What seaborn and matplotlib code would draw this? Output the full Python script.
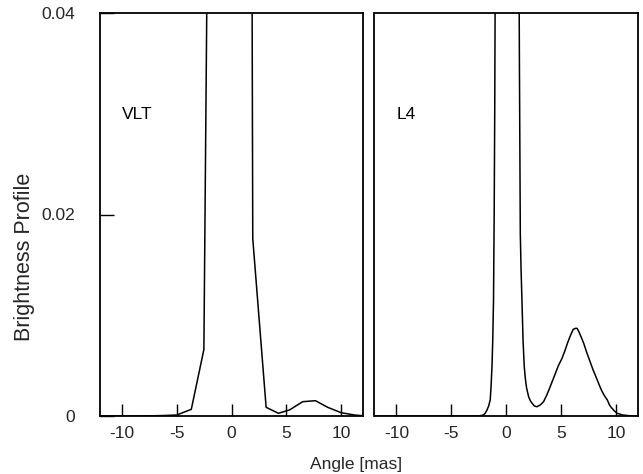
import matplotlib
matplotlib.use("Agg")
import matplotlib.pyplot as plt
import seaborn as sns
import pandas as pd

# VLT brightness profile (left panel)
vlt_angle = [-12, -9.5, -7.3, -6.1, -4.99, -3.67, -2.52, -1.40, -0.29, 0.83, 1.94,
             3.16, 4.28, 5.29, 6.5, 7.66, 8.78, 10.0, 11.2, 12]
vlt_bright = [0, 0, 0.00002, 0.00005, 0.0001, 0.00066, 0.0066, 0.15, 0.5, 0.45, 0.0176,
              0.00086, 0.00027, 0.0006, 0.00142, 0.00152, 0.00086, 0.00033, 0.0001, 0.00002]

# L4 brightness profile (right panel)
l4_angle = [-12, -8, -4, -2.5, -2.07, -1.9, -1.75, -1.6, -1.46, -1.38, -1.3, -1.23, -1.16,
            -1.1, -1.05, -0.95, -0.6, 0.08, 0.8, 1.1, 1.2, 1.28, 1.35, 1.43, 1.53, 1.64,
            1.74, 1.85, 2.04, 2.2, 2.4, 2.55, 2.8, 3.1, 3.4, 3.7, 4.0, 4.25, 4.5, 4.75,
            5.07, 5.35, 5.6, 5.85, 6.1, 6.3, 6.45, 6.6, 6.8, 7.06, 7.3, 7.6, 7.9, 8.28,
            8.5, 8.7, 8.95, 9.2, 9.4, 9.6, 9.85, 10.1, 10.6, 11.2, 12]
l4_bright = [0, 0, 0, 0, 0.0001, 0.0003, 0.0006, 0.001, 0.0016, 0.003, 0.0049, 0.0075,
             0.0115, 0.02, 0.03, 0.06, 0.2, 0.4, 0.2, 0.06, 0.035, 0.0181, 0.0145, 0.0115,
             0.0075, 0.0049, 0.0037, 0.0028, 0.0019, 0.0015, 0.0012, 0.0010, 0.00092,
             0.0011, 0.00142, 0.0021, 0.0029, 0.0036, 0.0043, 0.0050, 0.0057, 0.0065,
             0.0073, 0.008, 0.0086, 0.0087, 0.0087, 0.0084, 0.0079, 0.0072, 0.0064,
             0.0055, 0.0046, 0.0036, 0.0030, 0.0025, 0.0020, 0.0016, 0.0011, 0.0008,
             0.0005, 0.00027, 0.0001, 0.00003, 0]

x_ticks = [-10, -5, 0, 5, 10]
x_tick_labels = ["-10", "-5", "0", "5", "10"]
y_ticks = [0, 0.02, 0.04]
y_tick_labels = ["0", "0.02", "0.04"]
panel_names = ["VLT", "L4"]

sns.set_theme(style="white")
plt.rcParams["font.family"] = ["Liberation Sans", "DejaVu Sans"]

W, H = 643, 474
fig = plt.figure(figsize=(W / 100, H / 100), dpi=100)

def fx(px):
    return px / W

def fy(py):
    return 1 - py / H

top, bottom = 13, 416
ax1 = fig.add_axes([fx(100), fy(bottom), fx(363) - fx(100), fy(top) - fy(bottom)])
ax2 = fig.add_axes([fx(374.5), fy(bottom), fx(638) - fx(374.5), fy(top) - fy(bottom)])

datasets = [
    pd.DataFrame({"angle": vlt_angle, "bright": vlt_bright}),
    pd.DataFrame({"angle": l4_angle, "bright": l4_bright}),
]

for i, (ax, df, name) in enumerate(zip([ax1, ax2], datasets, panel_names)):
    sns.lineplot(data=df, x="angle", y="bright", ax=ax, color="black",
                 linewidth=1.1, estimator=None, sort=False)
    ax.set_xlim(-12, 12)
    ax.set_ylim(0, 0.04)
    ax.set_xticks(x_ticks)
    ax.set_xticklabels(x_tick_labels)
    ax.tick_params(axis="x", direction="in", length=9, width=1.0, color="black",
                   labelsize=12.5, pad=7, bottom=True)
    if i == 0:
        ax.set_yticks(y_ticks)
        ax.set_yticklabels(y_tick_labels)
        ax.tick_params(axis="y", direction="in", length=10, width=1.0, color="black",
                       labelsize=12.5, pad=18, left=True)
    else:
        ax.set_yticks([])
    ax.set_xlabel("")
    ax.set_ylabel("")
    for sp in ax.spines.values():
        sp.set_visible(True)
        sp.set_color("black")
        sp.set_linewidth(1.3)
    ax.text(-10, 0.0299, name, fontsize=12.5, ha="left", va="center", color="black")

fig.text(fx(356.5), fy(464), "Angle [mas]", ha="center", va="center", fontsize=12.5)
fig.text(fx(25), fy(257), "Brightness Profile", ha="center", va="center",
         rotation=90, fontsize=15.5)

fig.savefig("out.png", dpi=100)
